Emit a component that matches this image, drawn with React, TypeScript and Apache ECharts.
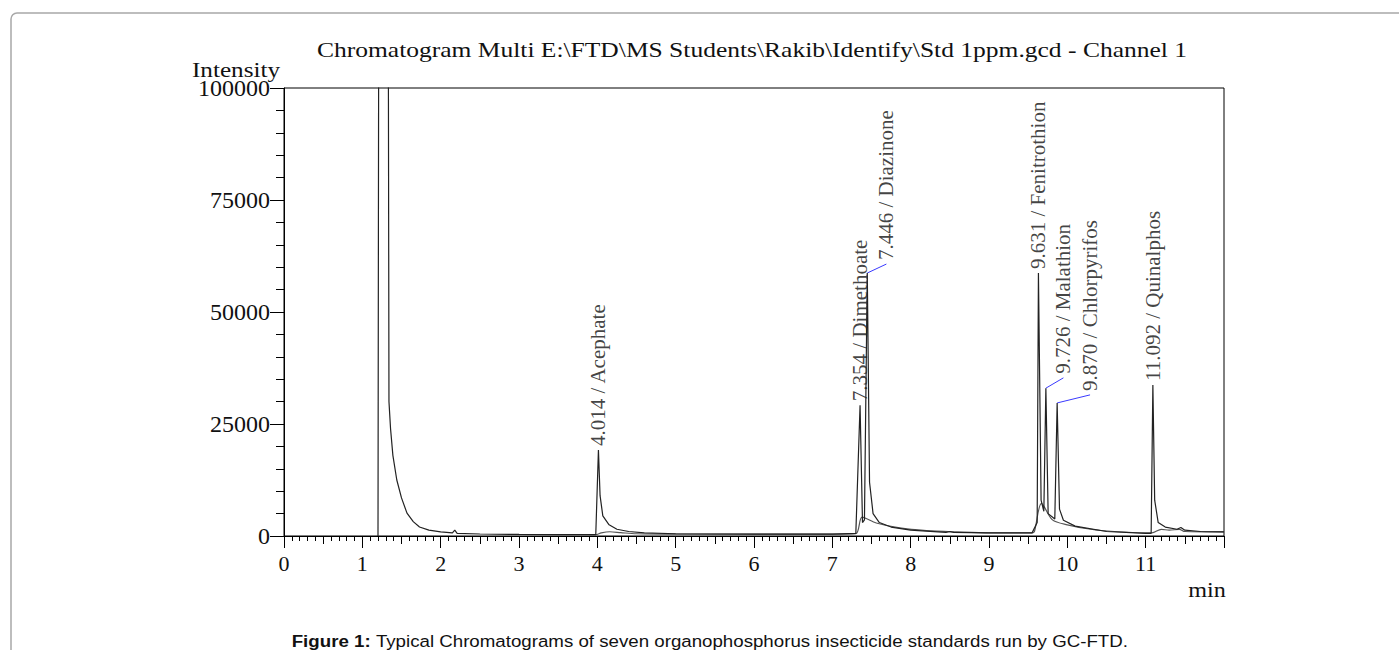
import React, { useEffect, useRef } from "react";
import * as echarts from "echarts";

// ---- data ----
const titleText = "Chromatogram Multi E:\\FTD\\MS Students\\Rakib\\Identify\\Std 1ppm.gcd - Channel 1";
const yAxisName = "Intensity";
const xAxisName = "min";
const captionBold = "Figure 1:";
const captionRest = " Typical Chromatograms of seven organophosphorus insecticide standards run by GC-FTD.";

// main chromatogram: [time (min), intensity]
const mainTrace: [number, number][] = [
  [1.2, 0], [1.21, 130000], [1.33, 130000], [1.34, 30000], [1.36, 24000], [1.39, 18000],
  [1.44, 12500], [1.5, 8500], [1.57, 5100], [1.65, 3200], [1.73, 2000], [1.85, 1300],
  [2.0, 900], [2.15, 700], [2.18, 1300], [2.21, 600], [2.5, 450], [3.0, 350], [3.5, 300],
  [3.98, 300], [4.014, 19200], [4.035, 9000], [4.07, 4500], [4.15, 2500], [4.25, 1500],
  [4.4, 1000], [4.6, 700], [5.0, 500], [6.0, 400], [7.0, 400], [7.3, 600], [7.354, 29200],
  [7.385, 3000], [7.41, 3600], [7.446, 58700], [7.475, 12000], [7.52, 5000], [7.6, 3000],
  [7.75, 2000], [8.0, 1300], [8.45, 800], [8.5, 1000], [8.55, 800], [9.0, 700], [9.55, 700],
  [9.615, 3000], [9.631, 58700], [9.665, 8000], [9.7, 5500], [9.726, 33000], [9.755, 5000],
  [9.84, 3800], [9.87, 29700], [9.9, 6000], [9.95, 3500], [10.1, 2200], [10.5, 1000],
  [11.0, 600], [11.07, 600], [11.092, 33700], [11.115, 8000], [11.16, 3000], [11.25, 2000],
  [11.4, 1500], [11.45, 1900], [11.5, 1300], [11.7, 1000], [12.0, 900],
];

// second overlaid chromatogram (broad low humps)
const secondTrace: [number, number][] = [
  [3.9, 300], [3.98, 300], [4.05, 700], [4.16, 950], [4.3, 750], [4.5, 500], [5.0, 400],
  [7.0, 400], [7.3, 500], [7.38, 4200], [7.56, 2900], [7.86, 1800], [8.2, 1200], [8.6, 900],
  [9.0, 700], [9.55, 700], [9.58, 1000], [9.67, 7300], [9.81, 3600], [10.0, 2500],
  [10.3, 1500], [10.6, 1000], [11.0, 700], [11.08, 700], [11.2, 1500], [11.3, 1300],
  [11.43, 1500], [11.5, 1000], [12.0, 900],
];

const peakTimes = [4.014, 7.354, 7.446, 9.631, 9.726, 9.87, 11.092];
const peakHeights = [19200, 29200, 58700, 58700, 33000, 29700, 33700];
const peakNames = ["Acephate", "Dimethoate", "Diazinone", "Fenitrothion", "Malathion", "Chlorpyrifos", "Quinalphos"];
// label anchor positions (where leader lines end)
const labelTimes = [4.014, 7.354, 7.69, 9.631, 9.95, 10.29, 11.092];
const labelHeights = [19200, 29200, 60700, 58700, 35300, 31500, 33700];
const hasLeader = [false, false, true, false, true, true, false];

const xMin = 0;
const xMax = 12;
const xInterval = 1;
const yMin = 0;
const yMax = 100000;
const yInterval = 25000;

export default function App() {
  const ref = useRef<HTMLDivElement>(null);

  useEffect(() => {
    if (!ref.current) return;
    const chart = echarts.init(ref.current, null, { renderer: "svg" });
    const serif = "Liberation Serif";

    const labelData = peakTimes.map((t, i) => ({
      value: [labelTimes[i], labelHeights[i]],
      name: t.toFixed(3) + " / " + peakNames[i],
    }));

    const leaderData = peakTimes
      .map((t, i) => ({ i, t }))
      .filter((d) => hasLeader[d.i])
      .map((d) => ({
        coords: [
          [d.t, peakHeights[d.i]],
          [labelTimes[d.i], labelHeights[d.i]],
        ],
      }));

    const option: any = {
      animation: false,
      backgroundColor: "#ffffff",
      grid: {
        left: 284,
        right: 175,
        top: 88,
        bottom: 114,
        show: true,
        borderColor: "#000",
        borderWidth: 1,
      },
      xAxis: [
        {
          type: "value",
          min: xMin,
          max: xMax,
          interval: xInterval,
          axisLine: { show: true, lineStyle: { color: "#000", width: 1 } },
          axisTick: { show: true, length: 12, lineStyle: { color: "#000" } },
          minorTick: { show: true, splitNumber: 10, length: 5, lineStyle: { color: "#000" } },
          splitLine: { show: false },
          axisLabel: {
            fontFamily: serif,
            fontSize: 22,
            color: "#111",
            margin: 16,
            showMaxLabel: false,
          },
        },
        {
          type: "value",
          min: xMin,
          max: xMax,
          interval: 0.5,
          position: "bottom",
          axisLine: { show: false },
          axisTick: { show: true, length: 8, lineStyle: { color: "#000" } },
          axisLabel: { show: false },
          splitLine: { show: false },
        },
      ],
      yAxis: {
        type: "value",
        min: yMin,
        max: yMax,
        interval: yInterval,
        axisLine: { show: true, lineStyle: { color: "#000", width: 1 } },
        axisTick: { show: true, length: 14, lineStyle: { color: "#000" } },
        minorTick: { show: true, splitNumber: 5, length: 8, lineStyle: { color: "#000" } },
        splitLine: { show: false },
        axisLabel: {
          fontFamily: serif,
          fontSize: 24,
          color: "#111",
          margin: 14,
          formatter: (v: number) => String(v),
        },
      },
      series: [
        {
          type: "line",
          data: secondTrace,
          showSymbol: false,
          symbol: "none",
          smooth: 0.3,
          clip: true,
          lineStyle: { color: "#555", width: 1.2 },
        },
        {
          type: "line",
          data: mainTrace,
          showSymbol: false,
          symbol: "none",
          clip: true,
          lineStyle: { color: "#222", width: 1.2 },
        },
        {
          type: "lines",
          coordinateSystem: "cartesian2d",
          data: leaderData,
          lineStyle: { color: "#3a3aff", width: 1, opacity: 1 },
          symbol: "none",
        },
        {
          type: "scatter",
          data: labelData,
          symbolSize: 0,
          label: {
            show: true,
            formatter: (p: any) => p.name,
            rotate: 90,
            position: [0, -4],
            align: "left",
            verticalAlign: "middle",
            fontFamily: serif,
            fontSize: 21,
            color: "#111",
          },
          silent: true,
        },
      ],
      graphic: [
        {
          type: "rect",
          shape: { x: 11, y: 13, width: 1500, height: 800, r: 6 },
          style: { fill: "none", stroke: "#a8a8a8", lineWidth: 1.5 },
          z: -1,
        },
        {
          type: "text",
          x: 752,
          y: 50,
          scaleX: 1.215,
          style: {
            text: titleText,
            font: "21px 'Liberation Serif'",
            fill: "#111",
            align: "center",
            verticalAlign: "middle",
          },
        },
        {
          type: "text",
          x: 236,
          y: 70,
          scaleX: 1.2,
          style: {
            text: yAxisName,
            font: "21px 'Liberation Serif'",
            fill: "#111",
            align: "center",
            verticalAlign: "middle",
          },
        },
        {
          type: "text",
          x: 1207,
          y: 590,
          scaleX: 1.15,
          style: {
            text: xAxisName,
            font: "21px 'Liberation Serif'",
            fill: "#111",
            align: "center",
            verticalAlign: "middle",
          },
        },
        {
          type: "text",
          x: 710,
          y: 641,
          scaleX: 1.1,
          style: {
            text: "{b|" + captionBold + "}{n|" + captionRest + "}",
            align: "center",
            verticalAlign: "middle",
            rich: {
              b: { font: "bold 17px 'Liberation Sans'", fill: "#111" },
              n: { font: "17px 'Liberation Sans'", fill: "#111" },
            },
          },
        },
      ],
    };

    chart.setOption(option);
    return () => chart.dispose();
  }, []);

  return (
    <div
      ref={ref}
      style={{ position: "absolute", left: 0, top: 0, width: 1399, height: 650 }}
    />
  );
}
